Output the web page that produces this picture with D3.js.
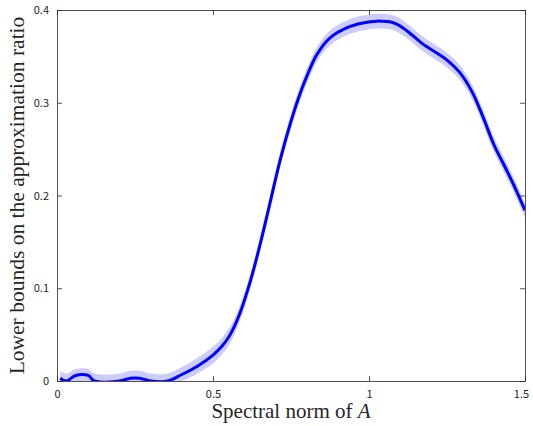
<!DOCTYPE html>
<html>
<head>
<meta charset="utf-8">
<script src="https://cdn.jsdelivr.net/npm/d3@7"></script>
<style>
  body { margin: 0; background: #fff; }
  .tick text { font-family: "Noto Sans CJK JP", "DejaVu Sans", sans-serif; font-size: 11px; fill: #262626; }
</style>
</head>
<body>
<div id="chart"></div>
<script>
// spectral norm values and the mean lower bound
var xs = [0.01, 0.03, 0.06, 0.10, 0.12, 0.20, 0.235, 0.265, 0.30, 0.355,
          0.40, 0.45, 0.50, 0.53, 0.555, 0.585, 0.62, 0.65, 0.68, 0.715,
          0.75, 0.775, 0.80, 0.833, 0.875, 0.93, 0.98, 1.025, 1.08, 1.12,
          1.17, 1.25, 1.29, 1.33, 1.365, 1.40, 1.44, 1.47, 1.50];
var meanVals = [0.003, 0.000, 0.006, 0.006, 0.000, 0.000, 0.003, 0.003, 0.000, 0.000,
                0.007, 0.016, 0.028, 0.038, 0.050, 0.072, 0.108, 0.146, 0.188, 0.238,
                0.280, 0.306, 0.328, 0.352, 0.370, 0.381, 0.386, 0.388, 0.386, 0.378,
                0.364, 0.346, 0.333, 0.312, 0.285, 0.255, 0.228, 0.207, 0.184];
var upperVals = [0.011, 0.008, 0.013, 0.013, 0.008, 0.008, 0.011, 0.011, 0.008, 0.008,
                 0.015, 0.025, 0.037, 0.047, 0.059, 0.080, 0.116, 0.154, 0.196, 0.246,
                 0.288, 0.314, 0.336, 0.360, 0.378, 0.389, 0.394, 0.396, 0.394, 0.386,
                 0.372, 0.354, 0.341, 0.320, 0.293, 0.263, 0.236, 0.215, 0.192];
var lowerVals = [0.000, 0.000, 0.000, 0.000, 0.000, 0.000, 0.000, 0.000, 0.000, 0.000,
                 0.000, 0.008, 0.019, 0.029, 0.041, 0.064, 0.100, 0.138, 0.180, 0.230,
                 0.272, 0.298, 0.320, 0.344, 0.362, 0.373, 0.378, 0.380, 0.378, 0.370,
                 0.356, 0.338, 0.325, 0.304, 0.277, 0.247, 0.220, 0.199, 0.176];
var xTicks = [0, 0.5, 1, 1.5];
var yTicks = [0, 0.1, 0.2, 0.3, 0.4];

var data = xs.map(function(x, i) {
  return {x: x, m: meanVals[i], hi: upperVals[i], lo: lowerVals[i]};
});

var width = 533, height = 426;
var margin = {top: 10, right: 8, bottom: 45, left: 57};
var w = width - margin.left - margin.right;
var h = height - margin.top - margin.bottom;

var svg = d3.select("#chart").append("svg")
    .attr("width", width)
    .attr("height", height);

var g = svg.append("g")
    .attr("transform", "translate(" + margin.left + "," + margin.top + ")");

var x = d3.scaleLinear().domain([0, 1.5]).range([0, w]);
var y = d3.scaleLinear().domain([0, 0.4]).range([h, 0]);

svg.append("defs").append("clipPath").attr("id", "clip")
  .append("rect").attr("width", w).attr("height", h);

var plot = g.append("g").attr("clip-path", "url(#clip)");

var smooth = d3.curveCatmullRom.alpha(0.5);

var area = d3.area()
    .x(d => x(d.x))
    .y0(d => y(d.lo))
    .y1(d => y(d.hi))
    .curve(smooth);

var line = d3.line()
    .x(d => x(d.x))
    .y(d => y(d.m))
    .curve(smooth);

plot.append("path")
    .datum(data)
    .attr("d", area)
    .attr("fill", "#0000ff")
    .attr("fill-opacity", 0.2);

plot.append("path")
    .datum(data)
    .attr("d", line)
    .attr("fill", "none")
    .attr("stroke", "#0000ff")
    .attr("stroke-width", 3);

var fmt = d => d === 0 ? "0" : String(d);

// axes, ticks pointing in
var xAxis = g.append("g")
    .attr("transform", "translate(0," + h + ")")
    .call(d3.axisBottom(x).tickValues(xTicks).tickFormat(fmt).tickSizeInner(-5).tickSizeOuter(0).tickPadding(9));
var xTop = g.append("g")
    .call(d3.axisTop(x).tickValues(xTicks).tickFormat("").tickSizeInner(-5).tickSizeOuter(0));
var yAxis = g.append("g")
    .call(d3.axisLeft(y).tickValues(yTicks).tickFormat(fmt).tickSizeInner(-5).tickSizeOuter(0).tickPadding(8));
var yRight = g.append("g")
    .attr("transform", "translate(" + w + ",0)")
    .call(d3.axisRight(y).tickValues(yTicks).tickFormat("").tickSizeInner(-5).tickSizeOuter(0));

[xAxis, xTop, yAxis, yRight].forEach(function(a) {
  a.selectAll(".domain").attr("stroke", "#262626").attr("stroke-width", 0.8);
  a.selectAll(".tick line").attr("stroke", "#262626").attr("stroke-width", 0.8);
});

xAxis.selectAll(".tick").filter(d => d === 1.5).select("text").attr("dx", "-4");

svg.append("text")
    .attr("x", margin.left + w / 2)
    .attr("y", 418)
    .attr("text-anchor", "middle")
    .attr("font-family", "'Liberation Serif', serif")
    .attr("font-size", 21)
    .attr("fill", "#262626")
    .html("Spectral norm of <tspan font-style='italic'>A</tspan>");

svg.append("text")
    .attr("transform", "translate(24," + (margin.top + h / 2) + ") rotate(-90)")
    .attr("text-anchor", "middle")
    .attr("font-family", "'Liberation Serif', serif")
    .attr("font-size", 21.5)
    .attr("fill", "#262626")
    .text("Lower bounds on the approximation ratio");
</script>
</body>
</html>
